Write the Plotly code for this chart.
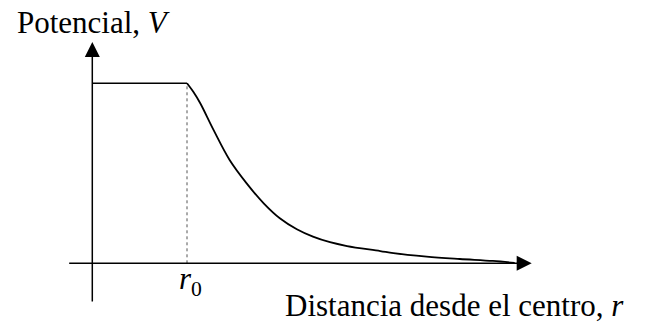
import plotly.graph_objects as go

# --- data (r in units of r0, V in units of V0) ---
r0 = 1.0
V0 = 1.0
flat_r = [0.0, 1.0]
flat_V = [1.0, 1.0]
curve_r = [1.0, 1.07, 1.14, 1.28, 1.45, 1.63, 1.81, 1.98, 2.16, 2.33, 2.51, 2.69, 3.04, 3.18, 3.53, 3.88, 4.23, 4.46]
curve_V = [1.0, 0.95, 0.889, 0.741, 0.574, 0.444, 0.333, 0.25, 0.189, 0.148, 0.117, 0.096, 0.068, 0.056, 0.037, 0.024, 0.013, 0.002]
x_axis_span = [-0.26, 4.64]
y_axis_span = [-0.22, 1.23]

y_label = "Potencial, <i>V</i>"
x_label = "Distancia desde el centro, <i>r</i>"
r0_label = "<i>r</i><sub>0</sub>"

# page body has an 8px default margin; the figure is sized to fit inside it
OFF = 8
W, H = 648 - OFF, 322 - OFF
FONT = "Liberation Serif"

fig = go.Figure()

# dotted guide at r0
fig.add_trace(go.Scatter(x=[r0, r0], y=[0, V0], mode="lines",
                         line=dict(color="#555555", width=1, dash="dot"),
                         hoverinfo="skip", showlegend=False))
# flat part inside r0
fig.add_trace(go.Scatter(x=flat_r, y=flat_V, mode="lines",
                         line=dict(color="black", width=1.6),
                         showlegend=False))
# decaying part
fig.add_trace(go.Scatter(x=curve_r, y=curve_V, mode="lines",
                         line=dict(color="black", width=1.8, shape="spline", smoothing=1.0),
                         showlegend=False))

# axes with arrows
fig.add_annotation(x=x_axis_span[1], y=0, ax=x_axis_span[0], ay=0,
                   xref="x", yref="y", axref="x", ayref="y", text="",
                   showarrow=True, arrowhead=2, arrowsize=2, arrowwidth=1.5,
                   arrowcolor="black", standoff=0, startstandoff=0)
fig.add_annotation(x=0, y=y_axis_span[1], ax=0, ay=y_axis_span[0],
                   xref="x", yref="y", axref="x", ayref="y", text="",
                   showarrow=True, arrowhead=2, arrowsize=2, arrowwidth=1.5,
                   arrowcolor="black", standoff=0, startstandoff=0)


def px(xp):
    return (xp - OFF) / W


def py(yp):
    return 1 - (yp - OFF) / H


# labels (positions given in page pixels)
fig.add_annotation(x=px(15), y=py(23), xref="paper", yref="paper",
                   text=y_label, showarrow=False, xanchor="left", yanchor="middle",
                   font=dict(family=FONT, size=31, color="black"))
fig.add_annotation(x=px(283), y=py(305), xref="paper", yref="paper",
                   text=x_label, showarrow=False, xanchor="left", yanchor="middle",
                   font=dict(family=FONT, size=31, color="black"))
fig.add_annotation(x=px(190), y=py(281), xref="paper", yref="paper",
                   text=r0_label, showarrow=False, xanchor="center", yanchor="middle",
                   font=dict(family=FONT, size=31, color="black"))

px_per_r = 94.7
px_per_V = 180.0
xmin = -(92.3 - OFF) / px_per_r
xmax = xmin + W / px_per_r
ymax = (263.3 - OFF) / px_per_V
ymin = ymax - H / px_per_V

fig.update_layout(
    width=W, height=H,
    margin=dict(l=0, r=0, t=0, b=0),
    paper_bgcolor="white", plot_bgcolor="white",
    xaxis=dict(range=[xmin, xmax], visible=False, fixedrange=True),
    yaxis=dict(range=[ymin, ymax], visible=False, fixedrange=True),
    showlegend=False,
)

fig.write_html("out.html")
